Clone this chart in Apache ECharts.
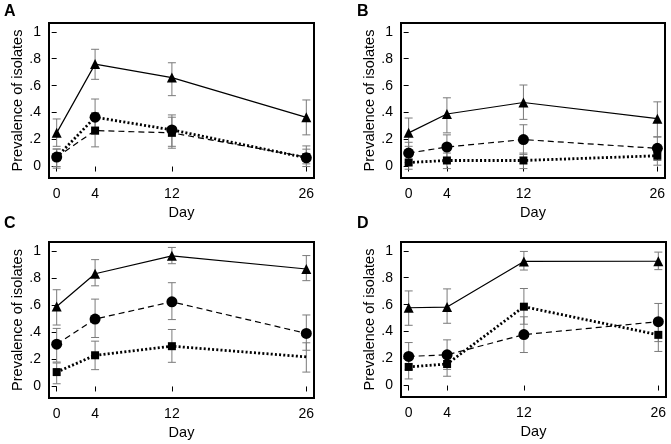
<!DOCTYPE html>
<html>
<head>
<meta charset="utf-8">
<script src="https://cdn.jsdelivr.net/npm/echarts@6/dist/echarts.min.js"></script>
<style>
  html, body { margin: 0; padding: 0; background: #fff; }
  #chart { width: 671px; height: 444px; }
</style>
</head>
<body>
<div id="chart"></div>
<script>
// data
var days = [0, 4, 12, 26];
var xTicks = [0, 4, 12, 26];
var yTicks = [0, 0.2, 0.4, 0.6, 0.8, 1];
var yTickLabels = ['0', '.2', '.4', '.6', '.8', '1'];
var panelNames = ['A', 'B', 'C', 'D'];

// triangles, solid line
var triA = [0.25, 0.76, 0.66, 0.365];
var triLoA = [0.15, 0.647, 0.526, 0.235];
var triHiA = [0.353, 0.87, 0.77, 0.494];
var triB = [0.25, 0.39, 0.475, 0.355];
var triLoB = [0.15, 0.25, 0.35, 0.22];
var triHiB = [0.36, 0.51, 0.605, 0.48];
var triC = [0.589, 0.831, 0.963, 0.866];
var triLoC = [0.453, 0.742, 0.905, 0.78];
var triHiC = [0.713, 0.935, 1.025, 0.965];
var triD = [0.577, 0.582, 0.921, 0.922];
var triLoD = [0.447, 0.462, 0.857, 0.86];
var triHiD = [0.702, 0.717, 0.995, 0.99];

// circles
var circA = [0.07, 0.366, 0.272, 0.065];
var circLoA = [-0.012, 0.24, 0.15, 0.0];
var circHiA = [0.13, 0.501, 0.383, 0.153];
var circB = [0.10, 0.145, 0.20, 0.135];
var circLoB = [0.03, 0.055, 0.09, 0.045];
var circHiB = [0.18, 0.235, 0.31, 0.22];
var circC = [0.312, 0.497, 0.624, 0.391];
var circLoC = [0.18, 0.361, 0.493, 0.267];
var circHiC = [0.428, 0.644, 0.765, 0.527];
var circD = [0.216, 0.228, 0.378, 0.474];
var circLoD = [0.118, 0.12, 0.245, 0.326];
var circHiD = [0.319, 0.339, 0.51, 0.609];

// squares
var sqA = [0.07, 0.267, 0.25, 0.07];
var sqLoA = [0.0, 0.146, 0.136, 0.02];
var sqHiA = [0.13, 0.40, 0.366, 0.129];
var sqB = [0.03, 0.045, 0.045, 0.08];
var sqLoB = [-0.02, -0.015, -0.015, 0.01];
var sqHiB = [0.08, 0.10, 0.10, 0.14];
var sqC = [0.106, 0.23, 0.297, 0.218];
var sqLoC = [0.02, 0.124, 0.178, 0.106];
var sqHiC = [0.173, 0.334, 0.42, 0.322];
var sqD = [0.138, 0.16, 0.585, 0.376];
var sqLoD = [0.049, 0.069, 0.455, 0.253];
var sqHiD = [0.21, 0.25, 0.72, 0.49];

var panels = [
  { tri: [triA, triLoA, triHiA], circ: [circA, circLoA, circHiA], sq: [sqA, sqLoA, sqHiA], circLine: 'dotted', sqLine: 'dashed' },
  { tri: [triB, triLoB, triHiB], circ: [circB, circLoB, circHiB], sq: [sqB, sqLoB, sqHiB], circLine: 'dashed', sqLine: 'dotted' },
  { tri: [triC, triLoC, triHiC], circ: [circC, circLoC, circHiC], sq: [sqC, sqLoC, sqHiC], circLine: 'dashed', sqLine: 'dotted', sqHideLast: true },
  { tri: [triD, triLoD, triHiD], circ: [circD, circLoD, circHiD], sq: [sqD, sqLoD, sqHiD], circLine: 'dashed', sqLine: 'dotted' }
];

var gridPos = [
  { left: 49, top: 23, width: 265, height: 155 },
  { left: 401, top: 23, width: 264, height: 155 },
  { left: 49, top: 242, width: 265, height: 156 },
  { left: 401, top: 242, width: 265, height: 155 }
];
var letterPos = [[4, 4], [357, 4], [4, 216], [357, 216]];

var lineStyles = {
  solid: { width: 1.2, type: 'solid' },
  dashed: { width: 1.2, type: [6, 4] },
  dotted: { width: 2.8, type: [2, 2.2] }
};

var font = 'Liberation Sans, Arial, sans-serif';

function errBar(idx, vals, lo, hi) {
  return {
    type: 'custom',
    xAxisIndex: idx,
    yAxisIndex: idx,
    z: 1,
    silent: true,
    data: days.map(function (d, i) { return [d, lo[i], hi[i]]; }),
    renderItem: function (params, api) {
      var p1 = api.coord([api.value(0), api.value(1)]);
      var p2 = api.coord([api.value(0), api.value(2)]);
      var w = 4;
      var st = { stroke: '#7a7a7a', lineWidth: 1 };
      return {
        type: 'group',
        children: [
          { type: 'line', shape: { x1: p1[0], y1: p1[1], x2: p2[0], y2: p2[1] }, style: st },
          { type: 'line', shape: { x1: p1[0] - w, y1: p1[1], x2: p1[0] + w, y2: p1[1] }, style: st },
          { type: 'line', shape: { x1: p2[0] - w, y1: p2[1], x2: p2[0] + w, y2: p2[1] }, style: st }
        ]
      };
    }
  };
}

function lineSeries(idx, vals, symbol, size, style, hideLast) {
  return {
    type: 'line',
    xAxisIndex: idx,
    yAxisIndex: idx,
    z: 3,
    symbol: symbol,
    symbolSize: size,
    silent: true,
    color: '#000',
    itemStyle: { color: '#000' },
    lineStyle: { color: '#000', width: style.width, type: style.type },
    data: days.map(function (d, i) {
      var item = { value: [d, vals[i]] };
      if (hideLast && i === days.length - 1) item.symbol = 'none';
      return item;
    })
  };
}

var grids = [], xAxes = [], yAxes = [], series = [], graphics = [];

panels.forEach(function (p, k) {
  grids.push(Object.assign({
    show: true,
    borderColor: '#000',
    borderWidth: 2,
    backgroundColor: '#fff',
    outerBoundsMode: 'none',
    containLabel: false
  }, gridPos[k]));

  xAxes.push({
    gridIndex: k,
    type: 'value',
    min: -0.8,
    max: 26.8,
    name: 'Day',
    nameLocation: 'middle',
    nameGap: 27,
    nameTextStyle: { fontFamily: font, fontSize: 14.5, color: '#000' },
    axisLine: { show: false },
    splitLine: { show: false },
    axisTick: { show: true, inside: false, length: 5, customValues: xTicks, lineStyle: { color: '#000', width: 1 } },
    axisLabel: { customValues: xTicks, margin: 9, fontFamily: font, fontSize: 14, color: '#000' }
  });

  yAxes.push({
    gridIndex: k,
    type: 'value',
    min: -0.085,
    max: 1.065,
    name: 'Prevalence of isolates',
    nameLocation: 'middle',
    nameRotate: 90,
    nameGap: 24,
    nameTextStyle: { fontFamily: font, fontSize: 14.5, color: '#000' },
    axisLine: { show: false },
    splitLine: { show: false },
    axisTick: { show: true, inside: false, length: 5, customValues: yTicks, lineStyle: { color: '#000', width: 1 } },
    axisLabel: {
      customValues: yTicks,
      margin: 8,
      fontFamily: font,
      fontSize: 14,
      color: '#000',
      formatter: function (v) {
        var i = yTicks.findIndex(function (t) { return Math.abs(t - v) < 1e-6; });
        return i >= 0 ? yTickLabels[i] : '';
      }
    }
  });

  series.push(errBar(k, p.tri[0], p.tri[1], p.tri[2]));
  series.push(errBar(k, p.circ[0], p.circ[1], p.circ[2]));
  series.push(errBar(k, p.sq[0], p.sq[1], p.sq[2]));
  series.push(lineSeries(k, p.sq[0], 'rect', 8, lineStyles[p.sqLine], p.sqHideLast));
  series.push(lineSeries(k, p.circ[0], 'circle', 11, lineStyles[p.circLine]));
  series.push(lineSeries(k, p.tri[0], 'triangle', 10, lineStyles.solid));

  graphics.push({
    type: 'text',
    left: letterPos[k][0],
    top: letterPos[k][1],
    style: { text: panelNames[k], fontFamily: font, fontSize: 16, fontWeight: 'bold', fill: '#000' }
  });
});

var myChart = echarts.init(document.getElementById('chart'));
myChart.setOption({
  animation: false,
  backgroundColor: '#fff',
  grid: grids,
  xAxis: xAxes,
  yAxis: yAxes,
  series: series,
  graphic: graphics
});
</script>
</body>
</html>
